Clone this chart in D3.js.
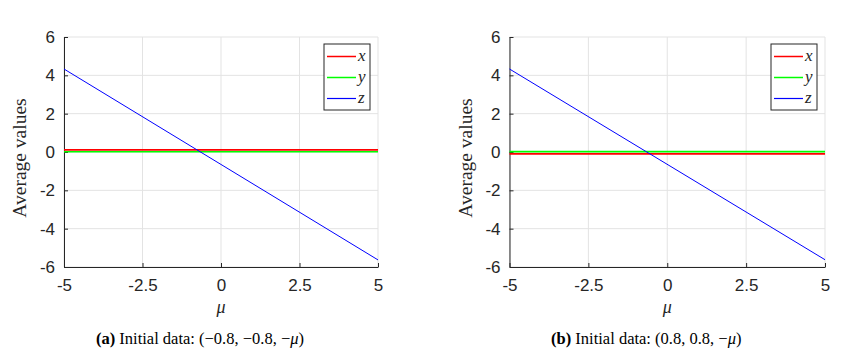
<!DOCTYPE html>
<html>
<head>
<meta charset="utf-8">
<script src="https://cdn.jsdelivr.net/npm/d3@7"></script>
<style>
  body { margin: 0; background: #fff; }
  svg { display: block; }
</style>
</head>
<body>
<div id="chart"></div>
<script>
var svgWidth = 858;
var svgHeight = 356;

// values
var mu = [-5, 5];
var xTicks = [-5, -2.5, 0, 2.5, 5];
var yTicks = [-6, -4, -2, 0, 2, 4, 6];

var xA = [0.11, 0.11];
var yA = [0.01, 0.01];
var zA = [4.33, -5.63];

var xB = [-0.1, -0.1];
var yB = [0.02, 0.02];
var zB = [4.33, -5.62];

var seriesNames = ["x", "y", "z"];
var seriesColors = ["#ff0000", "#00ff00", "#0000ff"];

var svg = d3.select("#chart")
  .append("svg")
  .attr("width", svgWidth)
  .attr("height", svgHeight);

function drawPanel(left, right, series, tag, caption) {
  var top = 37, bottom = 267;

  var xScale = d3.scaleLinear().domain([-5, 5]).range([left, right]);
  var yScale = d3.scaleLinear().domain([-6, 6]).range([bottom, top]);

  var g = svg.append("g");

  // grid
  g.selectAll(".vgrid").data(xTicks).enter().append("line")
    .attr("x1", d => xScale(d)).attr("x2", d => xScale(d))
    .attr("y1", top).attr("y2", bottom)
    .attr("stroke", "#e3e3e3").attr("stroke-width", 1);
  g.selectAll(".hgrid").data(yTicks).enter().append("line")
    .attr("x1", left).attr("x2", right)
    .attr("y1", d => yScale(d)).attr("y2", d => yScale(d))
    .attr("stroke", "#e3e3e3").attr("stroke-width", 1);

  // axes, ticks pointing inward like matlab
  var bottomAxis = d3.axisBottom(xScale).tickValues(xTicks).tickSizeInner(-4).tickSizeOuter(0).tickPadding(12)
    .tickFormat(d => String(d));
  var leftAxis = d3.axisLeft(yScale).tickValues(yTicks).tickSizeInner(-4).tickSizeOuter(0).tickPadding(9)
    .tickFormat(d => String(d));

  var gx = g.append("g").attr("transform", `translate(0, ${bottom})`).call(bottomAxis);
  var gy = g.append("g").attr("transform", `translate(${left}, 0)`).call(leftAxis);
  [gx, gy].forEach(function(a) {
    a.attr("font-size", null).attr("font-family", null);
    a.select(".domain").attr("stroke", "#262626");
    a.selectAll(".tick line").attr("stroke", "#262626");
    a.selectAll("text")
      .style("font-family", "'Liberation Sans', Arial, sans-serif")
      .style("font-size", "17px")
      .attr("fill", "#262626");
  });

  // lines
  var line = d3.line()
    .x((d, i) => xScale(mu[i]))
    .y(d => yScale(d));

  series.forEach(function(s, i) {
    g.append("path")
      .datum(s)
      .attr("d", line)
      .attr("fill", "none")
      .attr("stroke", seriesColors[i])
      .attr("stroke-width", i === 2 ? 1 : 1.6);
  });

  // legend
  var lx = right - 54, ly = 44;
  var legend = g.append("g").attr("transform", `translate(${lx}, ${ly})`);
  legend.append("rect")
    .attr("x", 0).attr("y", 0).attr("width", 46).attr("height", 66)
    .attr("fill", "#fff").attr("stroke", "#262626").attr("stroke-width", 1);
  seriesNames.forEach(function(n, i) {
    var yy = 12.5 + i * 21;
    legend.append("line")
      .attr("x1", 3).attr("x2", 32).attr("y1", yy).attr("y2", yy)
      .attr("stroke", seriesColors[i]).attr("stroke-width", i === 2 ? 1.2 : 1.5);
    legend.append("text")
      .attr("x", 34).attr("y", yy + 4)
      .attr("font-family", "'Liberation Serif', 'Times New Roman', serif")
      .attr("font-style", "italic")
      .attr("font-size", "17px")
      .attr("fill", "#262626")
      .text(n);
  });

  // axis labels
  g.append("text")
    .attr("transform", `translate(${left - 38}, ${(top + bottom) / 2 + 6}) rotate(-90)`)
    .attr("text-anchor", "middle")
    .attr("font-family", "'Liberation Serif', 'Times New Roman', serif")
    .attr("font-size", "19.5px")
    .attr("fill", "#262626")
    .text("Average values");

  g.append("text")
    .attr("x", (left + right) / 2)
    .attr("y", 313)
    .attr("text-anchor", "middle")
    .attr("font-family", "'Liberation Serif', 'Times New Roman', serif")
    .attr("font-style", "italic")
    .attr("font-size", "18px")
    .attr("fill", "#262626")
    .text("μ");

  // caption
  var cap = g.append("text")
    .attr("x", (left + right) / 2 - 21)
    .attr("y", 344)
    .attr("text-anchor", "middle")
    .attr("font-family", "'Liberation Serif', 'Times New Roman', serif")
    .attr("font-size", "16.5px")
    .attr("fill", "#000");
  cap.append("tspan").attr("font-weight", "bold").text("(" + tag + ")");
  caption.forEach(function(part) {
    var t = cap.append("tspan").text(part.t);
    if (part.i) t.attr("font-style", "italic");
  });
}

drawPanel(64, 378, [xA, yA, zA], "a",
  [{t: " Initial data: (−0.8, −0.8, −"}, {t: "μ", i: true}, {t: ")"}]);
drawPanel(509.5, 825, [xB, yB, zB], "b",
  [{t: " Initial data: (0.8, 0.8, −"}, {t: "μ", i: true}, {t: ")"}]);
</script>
</body>
</html>
